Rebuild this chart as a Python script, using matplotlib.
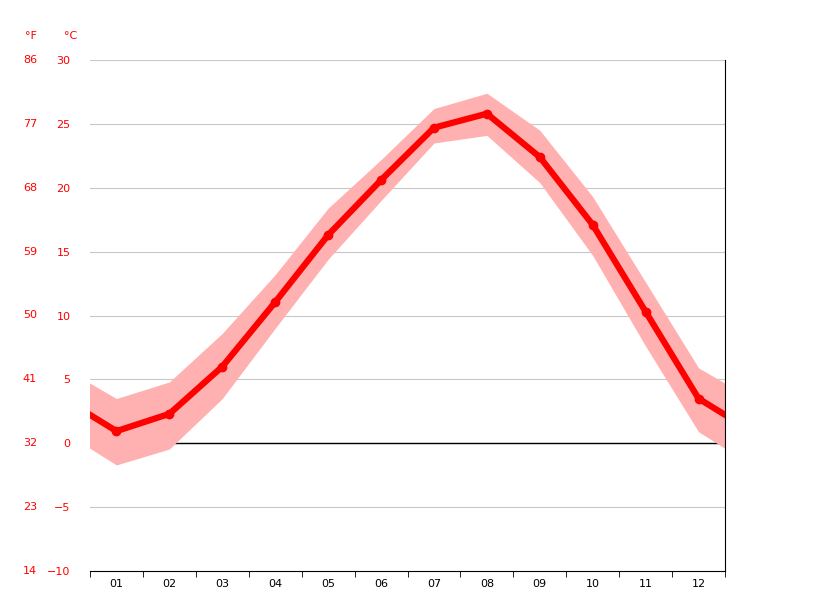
import numpy as np
import matplotlib
matplotlib.use("Agg")
import matplotlib.pyplot as plt
from matplotlib.transforms import blended_transform_factory

months = ["01", "02", "03", "04", "05", "06", "07", "08", "09", "10", "11", "12"]
temp_avg = [0.95, 2.3, 6.0, 11.05, 16.3, 20.6, 24.7, 25.8, 22.4, 17.1, 10.3, 3.5]
temp_hi = [3.5, 4.8, 8.6, 13.2, 18.4, 22.2, 26.2, 27.4, 24.5, 19.3, 12.6, 5.9]
temp_lo = [-1.7, -0.45, 3.5, 9.0, 14.4, 19.0, 23.5, 24.1, 20.4, 14.7, 7.6, 0.9]
c_ticks = [-10, -5, 0, 5, 10, 15, 20, 25, 30]
f_ticks = ["14", "23", "32", "41", "50", "59", "68", "77", "86"]

# wrap December before January and January after December so lines reach the edges
x = np.arange(0, 14)
def wrap(v):
    return [v[-1]] + list(v) + [v[0]]

fig = plt.figure(figsize=(8.15, 6.11), dpi=100)
ax = fig.add_axes([90 / 815, 40 / 611, 635 / 815, 511 / 611])

ax.fill_between(x, wrap(temp_lo), wrap(temp_hi), color="#ffb0b0", lw=0, zorder=2)
ax.plot(x, wrap(temp_avg), color="#ff0000", lw=4.5, zorder=3, solid_capstyle="butt")
ax.plot(x[1:13], temp_avg, "o", color="#ff0000", ms=6, zorder=4)

ax.set_xlim(0.5, 12.5)
ax.set_ylim(-10, 30)
ax.set_yticks(c_ticks)
ax.set_yticklabels(["\u221210" if t == -10 else ("\u22125" if t == -5 else str(t)) for t in c_ticks],
                   color="#ff0000", fontsize=8)
ax.tick_params(axis="y", length=0, pad=14)
for t in c_ticks[1:]:
    ax.axhline(t, color="#c8c8c8", lw=0.8, zorder=1)
ax.axhline(0, color="black", lw=1, zorder=1.5)

ax.set_xticks(np.arange(1, 13))
ax.set_xticklabels(months, fontsize=8)
ax.set_xticks(np.arange(0.5, 13, 1), minor=True)
ax.tick_params(axis="x", which="major", length=0, pad=6)
ax.tick_params(axis="x", which="minor", length=4, color="black")

for s in ["top", "left"]:
    ax.spines[s].set_visible(False)
ax.spines["bottom"].set_color("black")
ax.spines["right"].set_color("black")

trans = blended_transform_factory(fig.transFigure, ax.transData)
for t, lab in zip(c_ticks, f_ticks):
    ax.text(37 / 815, t, lab, transform=trans, color="#ff0000", fontsize=8,
            ha="right", va="center")
fig.text(37 / 815, 1 - 36 / 611, "\u00b0F", color="#ff0000", fontsize=8, ha="right", va="center")
fig.text(77 / 815, 1 - 36 / 611, "\u00b0C", color="#ff0000", fontsize=8, ha="right", va="center")

fig.savefig("out.png", dpi=100)
